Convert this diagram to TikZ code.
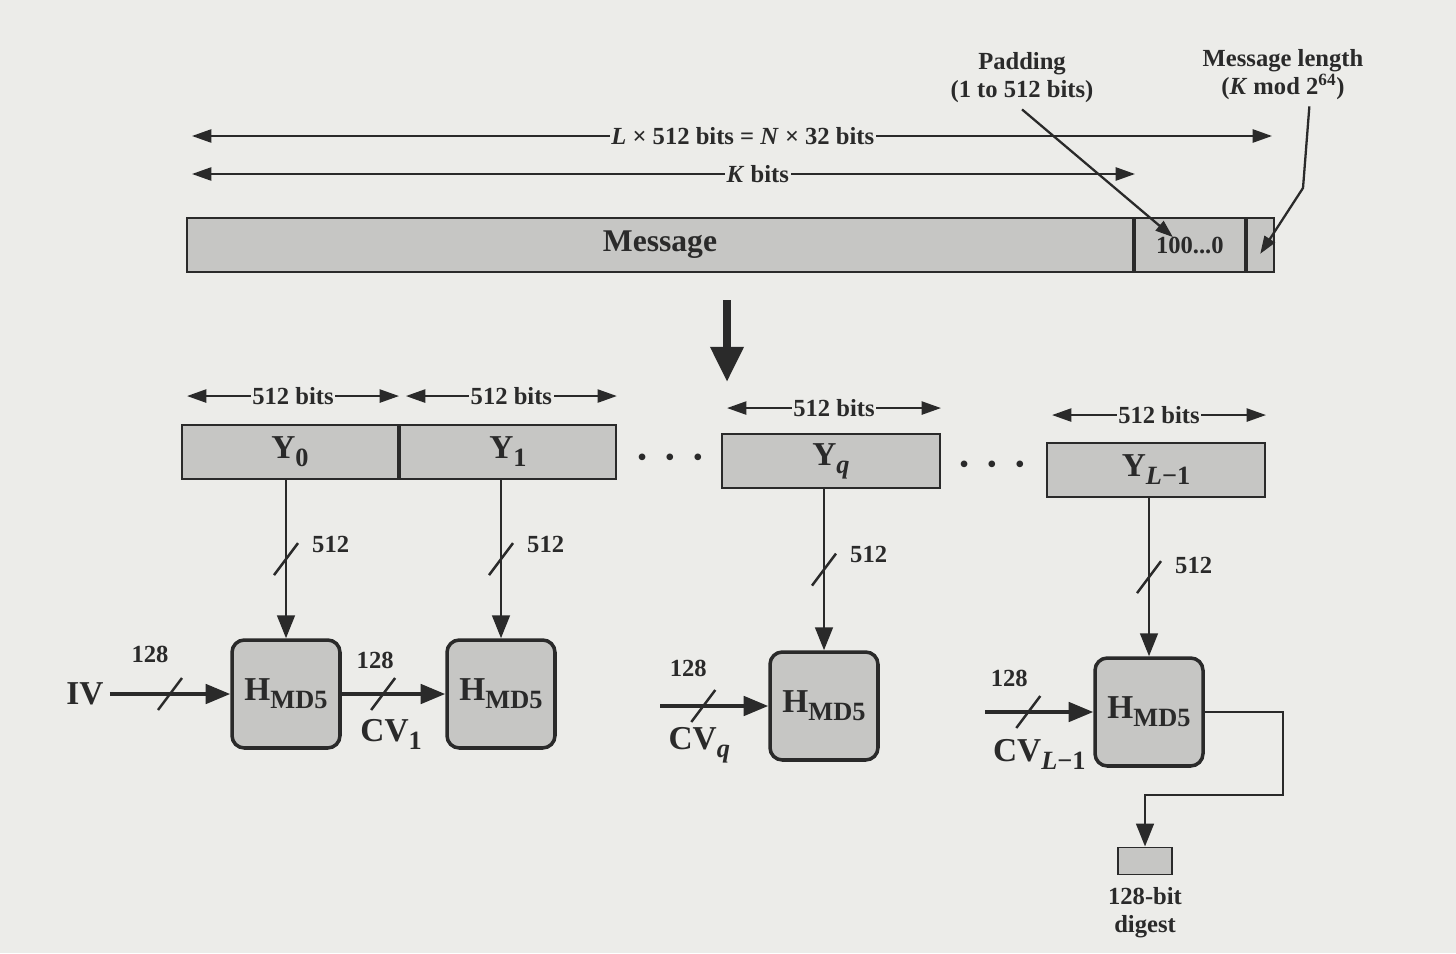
\documentclass[tikz,border=0pt]{standalone}
\usepackage{fontspec}
\setmainfont{Liberation Serif}
\usetikzlibrary{%
	calc,%
	arrows.meta,%
	positioning,%
}
\definecolor{pagebg}{RGB}{236, 236, 233}
\definecolor{blockfill}{RGB}{198, 198, 196}
\definecolor{ink}{RGB}{42, 42, 42}
\tikzset{
	>={Triangle[length=11pt,width=7.5pt]},%
	nodes={align=center, text=ink, font=\bfseries\fontsize{14}{16}\selectfont},%
	block/.style={%
			draw=ink,%
			rectangle,%
			line width=1.1pt,%
			fill=blockfill,%
			inner sep=0,%
			minimum height=1.08cm},%
	hbox/.style={%
			draw=ink,%
			rectangle,%
			line width=2pt,%
			rounded corners=7pt,%
			fill=blockfill,%
			minimum width=2.16cm,%
			minimum height=2.16cm},%
	span/.style={<->, draw=ink, line width=1.1pt},%
	flow/.style={-{Triangle[length=14pt,width=11pt]}, draw=ink, line width=2.2pt},%
	feed/.style={-{Triangle[length=13pt,width=10pt]}, draw=ink, line width=1.5pt},%
	ptr/.style={-{Triangle[length=10pt,width=7pt]}, draw=ink, line width=1.3pt},%
	buslabel/.style={fill=pagebg, inner xsep=1pt, inner ysep=0pt},%
	bigtext/.style={font=\bfseries\fontsize{19}{21}\selectfont},%
	msgtext/.style={font=\bfseries\fontsize{18}{20}\selectfont},%
}
\newcommand{\lowsub}[1]{\raisebox{-4.5pt}{\fontsize{15}{15}\selectfont #1}}
\newcommand{\hmd}{H\lowsub{MD5}}
\newcommand{\slashmark}[1]{\draw[ink, line width=1.4pt] ($(#1)+(-12,16)$) -- ($(#1)+(12,-16)$);}

\begin{document}
\begin{tikzpicture}[x=0.02cm, y=-0.02cm]%
	\fill[pagebg] (0,0) rectangle (1456,953);

	% padded message
	\node[block, minimum width=18.92cm, msgtext] (msg) at (660,245) {Message};
	\node[block, minimum width=2.2cm] (pad) [right=0pt of msg] {100...0};
	\node[block, minimum width=0.54cm] (len) [right=0pt of pad] {};

	\node (padlbl) at (1022,78) {Padding\\(1 to 512 bits)};
	\node (lenlbl) at (1283,75) {Message length\\(\textit{K} mod 2\textsuperscript{64})};

	\coordinate (lenL) at (192,136);
	\coordinate (lenR) at (1272,136);
	\coordinate (kL) at (192,174);
	\coordinate (kR) at (1135,174);
	\coordinate (padtip) at ($(pad.north west)+(39,20)$);
	\coordinate (lenbend) at (1303,188);
	\coordinate (bigtop) at (727,300);
	\coordinate (bigbot) at (727,382);

	\draw[span] (lenL) -- node[buslabel, pos=.51] (lenspan) {\textit{L} × 512 bits = \textit{N} × 32 bits} (lenR);
	\draw[span] (kL) -- node[buslabel, pos=.6] (kspan) {\textit{K} bits} (kR);
	\draw[ptr] (padlbl.south) -- (padtip);
	\draw[ptr] ([xshift=15pt]lenlbl.south) -- (lenbend) -- ([yshift=-5pt]len.center);
	\draw[draw=ink, line width=4.5pt, -{Triangle[length=20pt,width=18pt]}] (bigtop) -- (bigbot);

	% blocks
	\node[block, minimum width=4.32cm, bigtext] (y0) at (290,452) {Y\lowsub{0}};
	\node[block, minimum width=4.32cm, bigtext] (y1) [right=0pt of y0] {Y\lowsub{1}};
	\node[block, minimum width=4.36cm, bigtext] (yq) at (831,461) {Y\lowsub{\textit{q}}};
	\node[block, minimum width=4.36cm, bigtext] (yL) at (1156,470) {Y\lowsub{\textit{L}−1}};
	\node (dots1) at (670,460) {•\hspace{11pt}•\hspace{11pt}•};
	\node (dots2) at (992,467) {•\hspace{11pt}•\hspace{11pt}•};

	\draw[span] ($(y0.north west)+(6,-28)$) -- node[buslabel] (w0) {512 bits} ($(y0.north east)+(0,-28)$);
	\draw[span] ($(y1.north west)+(7,-28)$) -- node[buslabel] (w1) {512 bits} ($(y1.north east)+(0,-28)$);
	\draw[span] ($(yq.north west)+(6,-25)$) -- node[buslabel] (wq) {512 bits} ($(yq.north east)+(0,-25)$);
	\draw[span] ($(yL.north west)+(6,-27)$) -- node[buslabel] (wL) {512 bits} ($(yL.north east)+(0,-27)$);

	% compression stages
	\node[hbox, bigtext] (h0) at (286,694) {\hmd};
	\node[hbox, bigtext] (h1) at (501,694) {\hmd};
	\node[hbox, bigtext] (hq) at (824,706) {\hmd};
	\node[hbox, bigtext] (hL) at (1149,712) {\hmd};

	\draw[feed] (y0.south -| h0.north) -- coordinate (t0) (h0.north);
	\draw[feed] (y1.south -| h1.north) -- coordinate (t1) (h1.north);
	\draw[feed] (yq.south -| hq.north) -- coordinate (tq) (hq.north);
	\draw[feed] (yL.south -| hL.north) -- coordinate (tL) (hL.north);
	\slashmark{t0}
	\slashmark{t1}
	\slashmark{tq}
	\slashmark{tL}
	\node[anchor=west] (m0) at ($(t0)+(20,-15)$) {512};
	\node[anchor=west] (m1) at ($(t1)+(20,-15)$) {512};
	\node[anchor=west] (mq) at ($(tq)+(20,-15)$) {512};
	\node[anchor=west] (mL) at ($(tL)+(20,-12)$) {512};

	\node[bigtext] (iv) at (85,694) {IV};
	\coordinate (cvqin) at (660,706);
	\coordinate (cvLin) at (985,712);

	\draw[flow] (iv) -- coordinate[pos=.5] (s0) (h0);
	\draw[flow] (h0) -- coordinate[pos=.4] (s1) (h1);
	\draw[flow] (cvqin) -- coordinate[pos=.4] (sq) (hq);
	\draw[flow] (cvLin) -- coordinate[pos=.4] (sL) (hL);
	\slashmark{s0}
	\slashmark{s1}
	\slashmark{sq}
	\slashmark{sL}
	\node (c0) at ($(s0)+(-20,-40)$) {128};
	\node (c1) at ($(s1)+(-8,-34)$) {128};
	\node (cq) at ($(sq)+(-15,-38)$) {128};
	\node (cL) at ($(sL)+(-19,-34)$) {128};
	\node[bigtext] (cv1) at ($(s1)+(8,40)$) {CV\lowsub{1}};
	\node[bigtext] (cvq) at ($(sq)+(-4,39)$) {CV\lowsub{\textit{q}}};
	\node[bigtext] (cvL) at ($(sL)+(11,42)$) {CV\lowsub{\textit{L}−1}};

	% digest
	\node[block, minimum width=1.08cm, minimum height=0.54cm] (dig) at (1145,861) {};
	\node (diglbl) [below=3pt of dig] {128-bit\\digest};
	\coordinate (outR) at (1283,795);
	\draw[feed] (hL.east) -| (outR) -| (dig.north);
\end{tikzpicture}
\end{document}
